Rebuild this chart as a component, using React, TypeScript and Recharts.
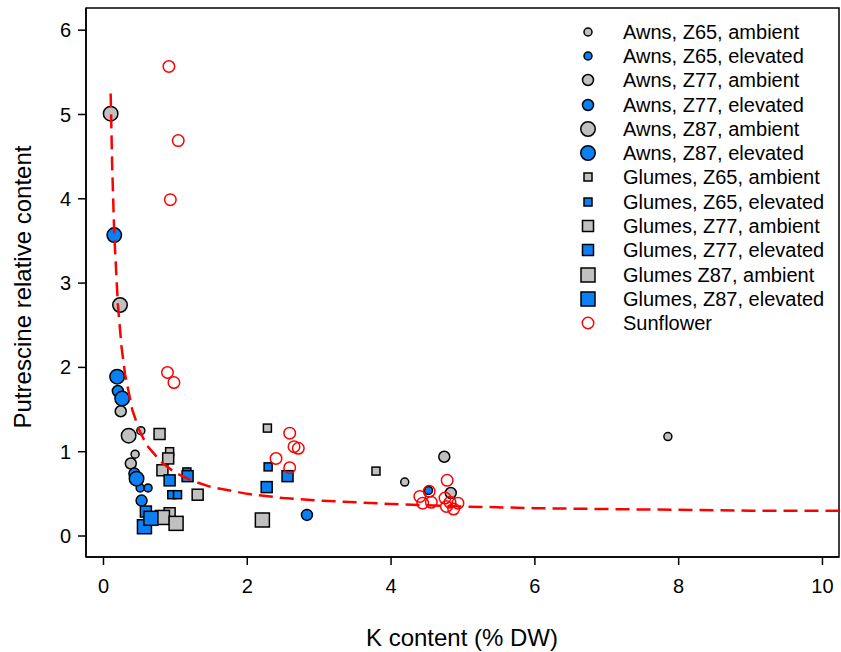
import { ScatterChart, Scatter, XAxis, YAxis, ReferenceArea } from 'recharts'

type Pt = [number, number]

// K content (x), putrescine relative content (y)
const awnsZ65Amb: Pt[] = [[0.52, 1.25], [0.44, 0.97], [4.19, 0.64], [7.85, 1.18]]
const awnsZ65Elev: Pt[] = [[0.51, 0.57], [0.62, 0.57], [4.52, 0.54]]
const awnsZ77Amb: Pt[] = [[0.24, 1.48], [0.38, 0.86], [4.74, 0.94], [4.83, 0.51]]
const awnsZ77Elev: Pt[] = [[0.2, 1.72], [0.43, 0.74], [0.53, 0.42], [2.83, 0.25]]
const awnsZ87Amb: Pt[] = [[0.1, 5.01], [0.23, 2.74], [0.35, 1.19]]
const awnsZ87Elev: Pt[] = [[0.15, 3.57], [0.19, 1.89], [0.26, 1.63], [0.46, 0.68]]
const glumesZ65Amb: Pt[] = [[0.92, 1.0], [2.28, 1.28], [3.79, 0.77]]
const glumesZ65Elev: Pt[] = [[1.16, 0.76], [0.95, 0.49], [1.03, 0.49], [2.29, 0.82]]
const glumesZ77Amb: Pt[] = [[0.78, 1.21], [0.9, 0.92], [0.82, 0.78], [1.31, 0.49], [0.92, 0.27]]
const glumesZ77Elev: Pt[] = [[0.92, 0.66], [1.17, 0.71], [2.27, 0.58], [2.56, 0.71], [0.59, 0.29]]
const glumesZ87Amb: Pt[] = [[0.82, 0.22], [1.01, 0.15], [2.21, 0.19]]
const glumesZ87Elev: Pt[] = [[0.57, 0.11], [0.66, 0.21]]
const sunflower: Pt[] = [
  [0.91, 5.57], [1.04, 4.69], [0.93, 3.99], [0.89, 1.94], [0.98, 1.82],
  [2.59, 1.22], [2.65, 1.06], [2.71, 1.04], [2.4, 0.92], [2.59, 0.81],
  [4.78, 0.66], [4.4, 0.47], [4.44, 0.39], [4.56, 0.4], [4.53, 0.53],
  [4.75, 0.45], [4.77, 0.35], [4.87, 0.32], [4.93, 0.39], [4.82, 0.4],
]

// dashed fit curve
const fitX = [0.1, 0.12, 0.15, 0.2, 0.25, 0.3, 0.4, 0.5, 0.6, 0.8, 1, 1.25, 1.5, 2, 2.5, 3, 4, 5, 6, 7, 8, 9, 10.23]
const fitY = [5.25, 4.42, 3.58, 2.75, 2.25, 1.92, 1.5, 1.25, 1.08, 0.88, 0.75, 0.65, 0.58, 0.5, 0.45, 0.42, 0.38, 0.35, 0.33, 0.32, 0.31, 0.3, 0.3]

const xTicks = [0, 2, 4, 6, 8, 10]
const yTicks = [0, 1, 2, 3, 4, 5, 6]

const GREY = '#c0c0c0'
const BLUE = '#0a80f5'
const FONT = '"Liberation Sans", Arial, sans-serif'

type Kind = 'circle' | 'square' | 'ring'
interface Series { name: string; data: Pt[]; kind: Kind; size: number; fill: string }

const series: Series[] = [
  { name: 'Awns, Z65, ambient', data: awnsZ65Amb, kind: 'circle', size: 8, fill: GREY },
  { name: 'Awns, Z65, elevated', data: awnsZ65Elev, kind: 'circle', size: 8, fill: BLUE },
  { name: 'Awns, Z77, ambient', data: awnsZ77Amb, kind: 'circle', size: 11, fill: GREY },
  { name: 'Awns, Z77, elevated', data: awnsZ77Elev, kind: 'circle', size: 11, fill: BLUE },
  { name: 'Awns, Z87, ambient', data: awnsZ87Amb, kind: 'circle', size: 14.5, fill: GREY },
  { name: 'Awns, Z87, elevated', data: awnsZ87Elev, kind: 'circle', size: 14.5, fill: BLUE },
  { name: 'Glumes, Z65, ambient', data: glumesZ65Amb, kind: 'square', size: 8, fill: GREY },
  { name: 'Glumes, Z65, elevated', data: glumesZ65Elev, kind: 'square', size: 8, fill: BLUE },
  { name: 'Glumes, Z77, ambient', data: glumesZ77Amb, kind: 'square', size: 11, fill: GREY },
  { name: 'Glumes, Z77, elevated', data: glumesZ77Elev, kind: 'square', size: 11, fill: BLUE },
  { name: 'Glumes Z87, ambient', data: glumesZ87Amb, kind: 'square', size: 14, fill: GREY },
  { name: 'Glumes, Z87, elevated', data: glumesZ87Elev, kind: 'square', size: 14, fill: BLUE },
  { name: 'Sunflower', data: sunflower, kind: 'ring', size: 11.5, fill: 'none' },
]

function Marker({ cx, cy, s }: { cx: number; cy: number; s: Series }) {
  if (s.kind === 'square') {
    return <rect x={cx - s.size / 2} y={cy - s.size / 2} width={s.size} height={s.size} fill={s.fill} stroke="#000" strokeWidth={1.5} />
  }
  if (s.kind === 'ring') {
    return <circle cx={cx} cy={cy} r={s.size / 2} fill="none" stroke="#ff0000" strokeWidth={1.5} />
  }
  return <circle cx={cx} cy={cy} r={s.size / 2} fill={s.fill} stroke="#000" strokeWidth={1.5} />
}

const tickStyle = { fontFamily: FONT, fontSize: 20, fill: '#000' }
const titleStyle = { fontFamily: FONT, fontSize: 24, fill: '#000' }

export default function App() {
  const fitData = fitX.map((x, i) => ({ x, y: fitY[i] }))

  return (
    <div style={{ position: 'absolute', left: 0, top: 0, width: 841, height: 652, background: '#fff' }}>
      <ScatterChart width={841} height={652} margin={{ top: 8, right: 2, bottom: 0, left: 0 }}>
        <XAxis
          type="number"
          dataKey="x"
          domain={[-0.243, 10.23]}
          ticks={xTicks}
          allowDataOverflow
          height={95}
          stroke="#000"
          strokeWidth={1.5}
          tickSize={8}
          tickMargin={14}
          tick={tickStyle}
          label={{
            content: () => (
              <text x={462} y={646} textAnchor="middle" style={titleStyle}>K content (% DW)</text>
            ),
          }}
        />
        <YAxis
          type="number"
          dataKey="y"
          domain={[-0.249, 6.263]}
          ticks={yTicks}
          allowDataOverflow
          width={86}
          stroke="#000"
          strokeWidth={1.5}
          tickSize={8}
          tickMargin={7}
          tick={tickStyle}
          label={{
            content: () => (
              <text x={22} y={287} transform="rotate(-90 22 287)" textAnchor="middle" dominantBaseline="central" style={titleStyle}>
                Putrescine relative content
              </text>
            ),
          }}
        />
        <ReferenceArea x1={-0.243} x2={10.23} y1={-0.249} y2={6.263} fill="none" stroke="#000" strokeWidth={1.5} />
        {series.map(s => (
          <Scatter
            key={s.name}
            name={s.name}
            data={s.data.map(([x, y]) => ({ x, y }))}
            isAnimationActive={false}
            shape={(p: any) => <Marker cx={p.cx} cy={p.cy} s={s} />}
          />
        ))}
        <Scatter
          name="fit"
          data={fitData}
          isAnimationActive={false}
          line={{ stroke: '#ff0000', strokeWidth: 2.5, strokeDasharray: '14 7' }}
          lineType="joint"
          shape={() => <g />}
        />
      </ScatterChart>
      <div style={{ position: 'absolute', left: 570, top: 19.5, fontFamily: FONT, fontSize: 20, color: '#000' }}>
        {series.map(s => (
          <div key={s.name} style={{ display: 'flex', alignItems: 'center', height: 24.3, whiteSpace: 'nowrap' }}>
            <svg width={36} height={24} style={{ display: 'block' }}>
              <Marker cx={18} cy={12} s={s} />
            </svg>
            <span style={{ marginLeft: 17, lineHeight: '24px' }}>{s.name}</span>
          </div>
        ))}
      </div>
    </div>
  )
}
